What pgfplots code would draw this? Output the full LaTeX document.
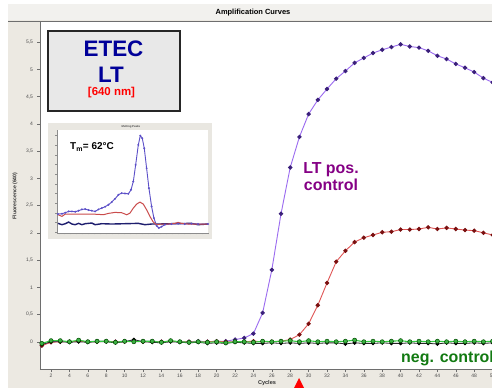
\documentclass[border=0pt]{standalone}
\usepackage{fontspec}
\setmainfont{Liberation Sans}
\usepackage{pgfplots}
\pgfplotsset{compat=1.18}
\definecolor{bgbeige}{HTML}{ECE9E2}
\definecolor{titlegrey}{HTML}{F2F1EE}
\definecolor{axgrey}{HTML}{6E6E6E}
\definecolor{purpline}{HTML}{9B6BF0}
\definecolor{purpmark}{HTML}{3A1F7A}
\definecolor{redline}{HTML}{E05555}
\definecolor{redmark}{HTML}{7A1010}
\definecolor{greenline}{HTML}{33CC40}
\definecolor{greenmark}{HTML}{3CB043}
\definecolor{labpurple}{HTML}{850085}
\definecolor{labgreen}{HTML}{127A12}
\definecolor{etecblue}{HTML}{000099}
\definecolor{boxgrey}{HTML}{E8E8E8}
\definecolor{insetbg}{HTML}{E9E7E1}
\definecolor{inblue}{HTML}{5B4FC8}
\definecolor{innavy}{HTML}{1E1E6E}
\begin{document}
\begin{tikzpicture}
\path[use as bounding box] (0,0) rectangle (492bp,388bp);
\clip (0,0) rectangle (492bp,388bp);
\fill[white] (0,0) rectangle (492bp,388bp);
\fill[bgbeige] (8bp,0) rectangle (492bp,384bp);
\fill[titlegrey] (8bp,368bp) rectangle (492bp,384bp);
\draw[axgrey,line width=0.8bp] (8bp,367bp) -- (492bp,367bp);
\node[font=\bfseries\fontsize{7.5}{8}\selectfont] at (253bp,375.5bp) {Amplification Curves};
\fill[white] (40bp,19bp) rectangle (492bp,366bp);
\node[rotate=90,font=\bfseries\fontsize{5.2}{6}\selectfont,text=black!80] at (15bp,192bp) {Fluorescence (640)};
\node[font=\bfseries\fontsize{5.6}{6}\selectfont,text=black!80] at (267bp,4.5bp) {Cycles};

\begin{axis}[at={(40bp,19bp)}, anchor=south west, scale only axis,
  width=461.8bp, height=347bp,
  xmin=0.8, xmax=51, ymin=-0.5, ymax=5.87,
  axis x line*=bottom, axis y line*=left,
  axis line style={axgrey, line width=0.7bp},
  tick align=outside, major tick length=3bp,
  tick style={axgrey, line width=0.5bp},
  xtick={2,4,...,50},
  ytick={0,0.5,1,1.5,2,2.5,3,3.5,4,4.5,5,5.5},
  /pgf/number format/.cd, use comma, assume math mode=true, /pgfplots/.cd,
  ticklabel style={font=\fontsize{5}{5}\selectfont, text=black!70},
  xticklabel style={yshift=1.5bp},
  yticklabel style={xshift=-0.5bp},
]
\addplot[purpline, line width=0.9bp, mark=*, mark size=1.7bp, mark options={fill=purpmark, draw=purpmark}] coordinates {
(1,-0.06)(2,0.0)(3,0.01)(4,0.0)(5,0.01)(6,0.0)(7,0.01)(8,0.01)(9,0.0)(10,0.01)(11,0.02)(12,0.01)(13,0.01)(14,0.0)(15,0.01)(16,0.0)(17,0.0)(18,0.01)(19,0.0)(20,0.01)(21,0.01)(22,0.04)(23,0.07)(24,0.15)(25,0.53)(26,1.32)(27,2.35)(28,3.2)(29,3.76)(30,4.18)(31,4.44)(32,4.64)(33,4.83)(34,4.97)(35,5.12)(36,5.21)(37,5.30)(38,5.36)(39,5.41)(40,5.46)(41,5.42)(42,5.40)(43,5.34)(44,5.25)(45,5.19)(46,5.10)(47,5.03)(48,4.95)(49,4.84)(50,4.76)};
\addplot[redline, line width=0.9bp, mark=*, mark size=1.7bp, mark options={fill=redmark, draw=redmark}] coordinates {
(1,-0.07)(2,-0.01)(3,0.0)(4,0.0)(5,0.01)(6,0.0)(7,0.0)(8,0.01)(9,0.0)(10,0.0)(11,0.01)(12,0.0)(13,0.0)(14,0.0)(15,0.01)(16,0.0)(17,0.0)(18,0.0)(19,0.0)(20,0.01)(21,0.0)(22,0.0)(23,0.0)(24,0.01)(25,0.0)(26,0.0)(27,0.01)(28,0.04)(29,0.13)(30,0.33)(31,0.67)(32,1.08)(33,1.47)(34,1.67)(35,1.83)(36,1.91)(37,1.96)(38,2.01)(39,2.02)(40,2.06)(41,2.06)(42,2.07)(43,2.10)(44,2.07)(45,2.09)(46,2.07)(47,2.05)(48,2.04)(49,2.00)(50,1.96)};
\addplot[black!85, line width=0.8bp, mark=*, mark size=1.5bp, mark options={fill=black, draw=black}] coordinates {
(1,-0.05)(2,0.0)(3,0.0)(4,-0.01)(5,0.0)(6,-0.01)(7,0.0)(8,0.0)(9,-0.02)(10,0.0)(11,0.04)(12,0.0)(13,-0.01)(14,-0.02)(15,0.0)(16,-0.01)(17,-0.02)(18,-0.01)(19,-0.03)(20,-0.02)(21,-0.03)(22,-0.01)(23,-0.02)(24,-0.03)(25,-0.03)(26,-0.02)(27,-0.03)(28,-0.02)(29,-0.03)(30,-0.02)(31,-0.03)(32,-0.02)(33,-0.02)(34,-0.04)(35,-0.02)(36,-0.03)(37,-0.03)(38,-0.02)(39,-0.03)(40,-0.03)(41,-0.02)(42,-0.03)(43,-0.03)(44,-0.04)(45,-0.02)(46,-0.03)(47,-0.03)(48,-0.02)(49,-0.03)(50,-0.02)};
\addplot[greenline, line width=1.1bp, mark=*, mark size=2.1bp, mark options={fill=greenmark, draw=black!70!green, line width=0.5bp}] coordinates {
(1,-0.03)(2,0.02)(3,0.02)(4,0.0)(5,0.03)(6,0.0)(7,0.01)(8,0.01)(9,-0.01)(10,0.01)(11,0.0)(12,0.01)(13,0.01)(14,-0.01)(15,0.02)(16,0.0)(17,-0.01)(18,0.0)(19,-0.01)(20,0.0)(21,-0.02)(22,0.0)(23,0.0)(24,-0.01)(25,0.01)(26,0.0)(27,0.01)(28,0.02)(29,0.0)(30,0.02)(31,0.0)(32,0.01)(33,0.0)(34,0.01)(35,0.03)(36,0.0)(37,0.01)(38,0.0)(39,0.01)(40,0.02)(41,0.0)(42,0.01)(43,0.0)(44,0.01)(45,0.0)(46,0.01)(47,0.0)(48,0.01)(49,0.0)(50,0.01)};
\end{axis}

% ETEC LT box
\draw[black!85, line width=1.3bp, fill=boxgrey] (48bp,277bp) rectangle (180bp,357bp);
\node[anchor=base, font=\bfseries\fontsize{22.5}{23}\selectfont, text=etecblue, inner sep=0] at (113.5bp,331bp) {ETEC};
\node[anchor=base, font=\bfseries\fontsize{22.5}{23}\selectfont, text=etecblue, inner sep=0] at (111bp,305.5bp) {LT};
\node[anchor=base, font=\bfseries\fontsize{11.5}{12}\selectfont, text=red, inner sep=0] at (111.5bp,292bp) {[640 nm]};

% inset
\fill[insetbg] (48bp,149bp) rectangle (212bp,265bp);
\node[font=\bfseries\fontsize{2.8}{3}\selectfont, text=black!70] at (131bp,261.5bp) {Melting Peaks};
\fill[white] (57bp,155bp) rectangle (208bp,258bp);
\begin{axis}[at={(57bp,155bp)}, anchor=south west, scale only axis,
  width=151bp, height=103bp,
  xmin=35, xmax=490, ymin=45, ymax=355, y dir=reverse,
  axis x line*=bottom, axis y line*=left,
  axis line style={black!45, line width=0.4bp},
  tick align=outside, major tick length=1.5bp,
  tick style={black!45, line width=0.3bp},
  xtick={40,58,...,490}, ytick={62,91,...,360},
  xticklabels={}, yticklabels={},
]
\addplot[innavy, line width=1.4bp] coordinates {
(38,326)(50,330)(60,327)(70,322)(80,328)(90,330)(100,326)(110,330)(120,327)(140,325)(150,330)(170,327)(200,328)(240,327)(280,326)(300,330)(320,328)(340,328)(380,327)(440,326)(460,330)(490,328)};
\addplot[inblue, line width=0.9bp, mark=*, mark size=0.45bp, mark options={fill=inblue!80!black}] coordinates {
(38,298)(50,297)(60,294)(70,290)(80,290)(90,291)(100,288)(110,284)(120,283)(130,286)(140,288)(150,290)(160,284)(170,280)(180,276)(190,270)(200,262)(210,252)(220,240)(230,235)(240,236)(250,237)(258,225)(265,200)(272,150)(280,90)(286,62)(292,70)(298,100)(305,160)(312,220)(320,275)(327,310)(335,333)(342,340)(350,336)(360,330)(380,328)(400,327)(420,328)(440,327)(460,328)(490,328)};
\addplot[redline!90!black, line width=1.0bp] coordinates {
(38,300)(50,305)(60,298)(80,298)(100,298)(120,298)(140,298)(160,299)(175,300)(190,296)(210,293)(230,294)(245,300)(255,295)(265,280)(275,268)(285,262)(295,268)(305,285)(315,305)(325,322)(335,330)(350,328)(370,328)(390,326)(400,323)(410,326)(430,328)(460,328)(490,328)};
\end{axis}
\node[anchor=base west, font=\bfseries\fontsize{10}{10}\selectfont, inner sep=0] at (70bp,238bp) {T\textsubscript{m}= 62°C};

% labels
\node[anchor=base, font=\bfseries\fontsize{16}{16}\selectfont, text=labpurple, inner sep=0] at (331bp,214bp) {LT pos.};
\node[anchor=base, font=\bfseries\fontsize{16}{16}\selectfont, text=labpurple, inner sep=0] at (331bp,197bp) {control};
\node[anchor=base west, font=\bfseries\fontsize{16}{16}\selectfont, text=labgreen, inner sep=0] at (401bp,26bp) {neg. control};

% red arrow marker
\fill[red] (299bp,10bp) -- (291bp,-6bp) -- (307bp,-6bp) -- cycle;
\end{tikzpicture}
\end{document}
